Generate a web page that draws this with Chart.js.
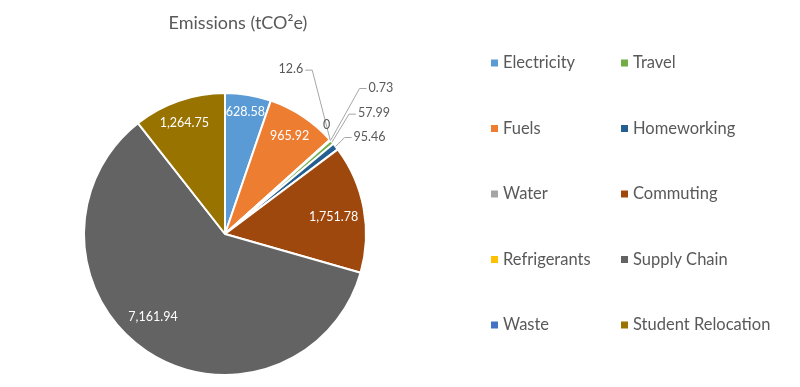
<!DOCTYPE html>
<html><head><meta charset="utf-8">
<script src="https://cdn.jsdelivr.net/npm/chart.js@4/dist/chart.umd.min.js"></script>
<style>html,body{margin:0;padding:0;background:#fff;}canvas{display:block}</style>
</head><body><canvas id="c" width="800" height="387"></canvas>
<script>
// ---- data ----
const chartTitle = 'Emissions (tCO²e)';
const categories = ['Electricity','Fuels','Water','Refrigerants','Waste','Travel','Homeworking','Commuting','Supply Chain','Student Relocation'];
const emissions = [628.58, 965.92, 12.6, 0, 0.73, 57.99, 95.46, 1751.78, 7161.94, 1264.75];
const sliceColors = ['#5B9BD5','#ED7D31','#A5A5A5','#FFC000','#4472C4','#70AD47','#255E91','#9E480E','#636363','#997300'];

// ---- styling / layout (not data) ----
const FONT = 'Lato, "Open Sans", sans-serif';
const TEXT_COLOR = '#595959';
// inside label placement: fraction of radius, angle shift in degrees
const insidePlacement = {
  0: {frac: 0.88, dAng: 0},
  1: {frac: 0.83, dAng: 0},
  7: {frac: 0.78, dAng: 1.5},
  8: {frac: 0.78, dAng: 7},
  9: {frac: 0.84, dAng: -1}
};
const callouts = {
  2: {dx: -27, dy: -71, align: 'right', leader: true},
  3: {dx: -4,  dy: -16, align: 'center', leader: false},
  4: {dx: 38,  dy: -53, align: 'left', leader: true},
  5: {dx: 26,  dy: -29, align: 'left', leader: true},
  6: {dx: 18,  dy: -10, align: 'left', leader: true}
};
const fmt = v => v.toLocaleString('en-US', {maximumFractionDigits: 2});

const labelPlugin = {
  id: 'sliceLabels',
  afterDatasetsDraw(chart) {
    const ctx = chart.ctx;
    const meta = chart.getDatasetMeta(0);
    ctx.save();
    ctx.font = '12.5px ' + FONT;
    ctx.textBaseline = 'middle';
    meta.data.forEach((arc, i) => {
      const p = arc.getProps(['x','y','startAngle','endAngle','outerRadius'], true);
      const mid = (p.startAngle + p.endAngle) / 2;
      const text = fmt(emissions[i]);
      const co = callouts[i];
      if (!co) {
        const pl = insidePlacement[i] || {frac: 0.82, dAng: 0};
        const a = mid + pl.dAng * Math.PI / 180;
        const r = p.outerRadius * pl.frac;
        ctx.fillStyle = '#FFFFFF';
        ctx.textAlign = 'center';
        ctx.fillText(text, p.x + Math.cos(a) * r, p.y + Math.sin(a) * r);
      } else {
        const ex = p.x + Math.cos(mid) * p.outerRadius;
        const ey = p.y + Math.sin(mid) * p.outerRadius;
        const tx = ex + co.dx, ty = ey + co.dy;
        if (co.leader) {
          const gap = 2, len = 7;
          const sgn = co.align === 'right' ? 1 : -1;
          const hx0 = tx + sgn * gap, hx1 = tx + sgn * (gap + len);
          ctx.strokeStyle = '#A6A6A6';
          ctx.lineWidth = 1;
          ctx.beginPath();
          ctx.moveTo(ex, ey);
          ctx.lineTo(hx1, ty + 1);
          ctx.lineTo(hx0, ty + 1);
          ctx.stroke();
        }
        ctx.fillStyle = TEXT_COLOR;
        ctx.textAlign = co.align;
        ctx.fillText(text, tx, ty);
      }
    });
    ctx.restore();
  }
};

const decorPlugin = {
  id: 'decor',
  afterDraw(chart) {
    const ctx = chart.ctx;
    ctx.save();
    // title
    ctx.fillStyle = TEXT_COLOR;
    ctx.font = '18px ' + FONT;
    ctx.textAlign = 'center';
    ctx.textBaseline = 'middle';
    ctx.fillText(chartTitle, 238, 23);
    // legend, two columns, filled column-wise
    ctx.font = '16.5px ' + FONT;
    ctx.textAlign = 'left';
    const colX = [491, 621], rowY0 = 63, rowStep = 65.5, perCol = 5;
    categories.forEach((name, i) => {
      const col = Math.floor(i / perCol), row = i % perCol;
      const x = colX[col], y = rowY0 + row * rowStep;
      ctx.fillStyle = sliceColors[i];
      ctx.fillRect(x, y - 3.5, 7, 7);
      ctx.fillStyle = TEXT_COLOR;
      ctx.fillText(name, x + 12, y);
    });
    ctx.restore();
  }
};

new Chart(document.getElementById('c'), {
  type: 'pie',
  data: {
    labels: categories,
    datasets: [{
      data: emissions,
      backgroundColor: sliceColors,
      borderColor: '#FFFFFF',
      borderWidth: 2,
      hoverOffset: 0
    }]
  },
  options: {
    responsive: false,
    animation: false,
    layout: {padding: {left: 83, right: 433, top: 92, bottom: 11}},
    plugins: {legend: {display: false}, title: {display: false}, tooltip: {enabled: false}}
  },
  plugins: [labelPlugin, decorPlugin]
});
</script>
</body></html>
